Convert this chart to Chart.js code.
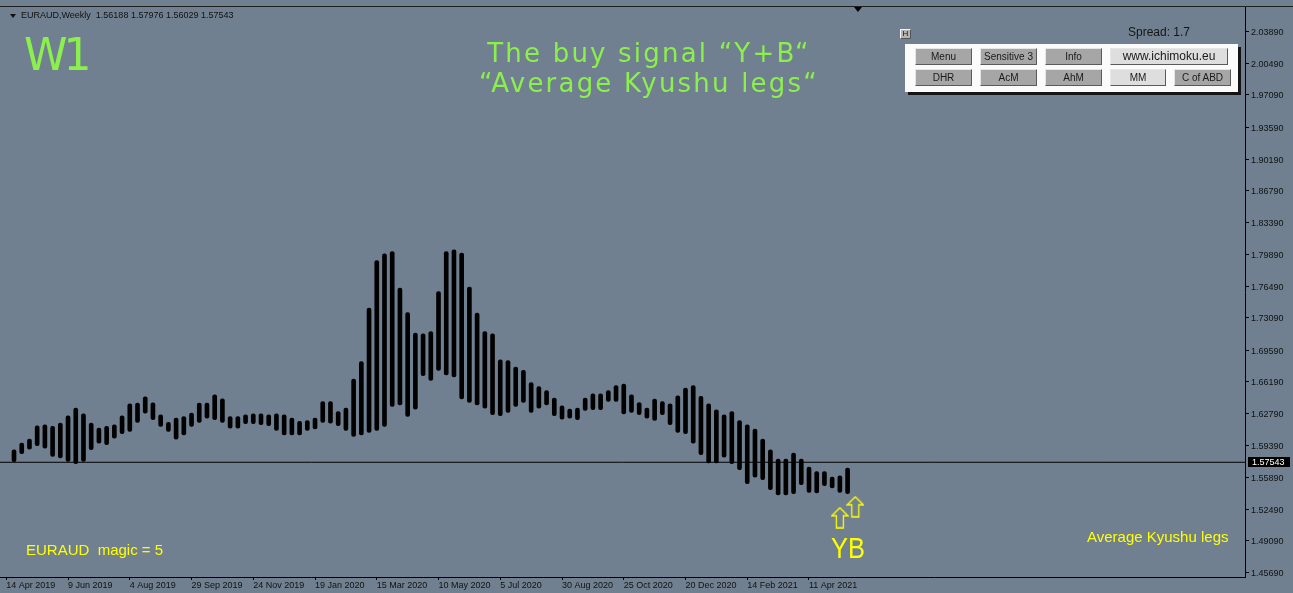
<!DOCTYPE html>
<html><head><meta charset="utf-8">
<script src="https://cdn.jsdelivr.net/npm/chart.js@4.4.1/dist/chart.umd.min.js"></script>
<style>
html,body{margin:0;padding:0;background:#708090;overflow:hidden;}
#wrap{position:relative;width:1293px;height:593px;background:#708090;}
#c{position:absolute;left:0;top:0;}
.t{position:absolute;white-space:pre;}
#topline{position:absolute;left:0;top:6px;width:1293px;height:1px;background:#1e1e1e;}
#hdr{left:21px;top:11px;font:9px "Liberation Sans";line-height:9px;color:#111;}
#hdrTri{position:absolute;left:10px;top:14px;width:0;height:0;border-left:3px solid transparent;border-right:3px solid transparent;border-top:4px solid #111;}
#shiftTri{position:absolute;left:854px;top:7px;width:0;height:0;border-left:4px solid transparent;border-right:4px solid transparent;border-top:5px solid #000;}
#w1{left:24px;top:33px;font:44px "DejaVu Sans";line-height:44px;color:#8cf04c;letter-spacing:-4px;}
#title{position:absolute;left:349px;top:38px;width:600px;text-align:center;font:26px "DejaVu Sans";line-height:30px;color:#8cf04c;letter-spacing:2.2px;white-space:pre;}
#spread{left:1128px;top:26px;font:12px "Liberation Sans";line-height:12px;color:#151515;}
#hbtn{position:absolute;left:900px;top:29px;width:11px;height:10px;box-sizing:border-box;background:#b4b4b4;border-top:1px solid #f4f4f4;border-left:1px solid #f4f4f4;border-right:1px solid #555;border-bottom:1px solid #555;font:8px "Liberation Sans";line-height:8px;text-align:center;color:#111;}
#panel{position:absolute;left:905px;top:44px;width:333px;height:48px;background:#fbfbfb;box-shadow:3px 3px 0 #141414;}
.btn{position:absolute;height:17px;box-sizing:border-box;background:#a6a6a6;border-top:1px solid #e6e6e6;border-left:1px solid #e6e6e6;border-right:1px solid #5a5a5a;border-bottom:1px solid #5a5a5a;font:10px "Liberation Sans";line-height:15px;text-align:center;color:#1a1a1a;white-space:pre;}
.lt{background:#dedede;}
#magic{left:26px;top:542px;font:15px "Liberation Sans";line-height:15px;color:#ffff00;}
#akl{left:1087px;top:529px;font:15px "Liberation Sans";line-height:15px;color:#ffff00;}
#yb{left:831px;top:533px;font:30px "Liberation Sans";line-height:30px;color:#ffff00;transform:scaleX(0.85);transform-origin:0 0;}
</style></head><body>
<div id="wrap">
<canvas id="c" width="1293" height="593"></canvas>
<div id="topline"></div>
<div id="hdrTri"></div>
<div class="t" id="hdr">EURAUD,Weekly  1.56188 1.57976 1.56029 1.57543</div>
<div id="shiftTri"></div>
<div class="t" id="w1">W1</div>
<div id="title">The buy signal “Y+B“
“Average Kyushu legs“</div>
<div id="hbtn">H</div>
<div class="t" id="spread">Spread: 1.7</div>
<div id="panel">
  <div class="btn" style="left:10px;top:4px;width:57px">Menu</div>
  <div class="btn" style="left:75px;top:4px;width:57px">Sensitive 3</div>
  <div class="btn" style="left:140px;top:4px;width:57px">Info</div>
  <div class="btn lt" style="left:205px;top:4px;width:118px;font-size:12px">www.ichimoku.eu</div>
  <div class="btn" style="left:10px;top:25px;width:57px">DHR</div>
  <div class="btn" style="left:75px;top:25px;width:57px">AcM</div>
  <div class="btn" style="left:140px;top:25px;width:57px">AhM</div>
  <div class="btn lt" style="left:205px;top:25px;width:56px">MM</div>
  <div class="btn" style="left:269px;top:25px;width:57px">C of ABD</div>
</div>
<div class="t" id="magic">EURAUD  magic = 5</div>
<div class="t" id="akl">Average Kyushu legs</div>
<div class="t" id="yb">YB</div>
</div>
<script>
// weekly tick labels (every 8th week starting at week index 0)
const dateLabels = ["14 Apr 2019","9 Jun 2019","4 Aug 2019","29 Sep 2019","24 Nov 2019","19 Jan 2020","15 Mar 2020","10 May 2020","5 Jul 2020","30 Aug 2020","25 Oct 2020","20 Dec 2020","14 Feb 2021","11 Apr 2021"];

// bar highs per week (index 0 = 14 Apr 2019)
const highs = [null,
1.5889,1.5961,1.6004,1.6147,1.6158,1.6140,1.6176,1.6255,1.6338,1.6276,
1.6176,1.6122,1.6140,1.6158,1.6255,1.6384,1.6392,1.6459,1.6395,1.6266,
1.6183,1.6230,1.6247,1.6284,1.6392,1.6392,1.6481,1.6438,1.6247,1.6247,
1.6266,1.6276,1.6276,1.6266,1.6276,1.6266,1.6230,1.6194,1.6204,1.6230,
1.6409,1.6409,1.6301,1.6338,1.6650,1.6839,1.7414,1.7927,1.7999,1.8024,
1.7630,1.7367,1.7145,1.7138,1.7162,1.7593,1.8024,1.8042,1.8006,1.7640,
1.7361,1.7162,1.7138,1.6858,1.6850,1.6779,1.6743,1.6613,1.6570,1.6527,
1.6445,1.6363,1.6327,1.6338,1.6445,1.6492,1.6492,1.6527,1.6581,1.6596,
1.6481,1.6398,1.6338,1.6435,1.6409,1.6384,1.6470,1.6553,1.6581,1.6463,
1.6384,1.6320,1.6266,1.6301,1.6204,1.6158,1.6112,1.6004,1.5889,1.5789,
1.5789,1.5853,1.5789,1.5703,1.5655,1.5655,1.5595,1.5609,1.5692];

// bar lows per week
const lows = [null,
1.5760,1.5846,1.5896,1.5932,1.5907,1.5817,1.5800,1.5763,1.5738,1.5763,
1.5889,1.5961,1.5943,1.6015,1.6061,1.6086,1.6183,1.6284,1.6212,1.6140,
1.6086,1.6004,1.6050,1.6140,1.6183,1.6230,1.6212,1.6183,1.6122,1.6122,
1.6169,1.6169,1.6158,1.6147,1.6097,1.6050,1.6050,1.6050,1.6097,1.6112,
1.6183,1.6176,1.6147,1.6097,1.6032,1.6050,1.6075,1.6097,1.6140,1.6355,
1.6373,1.6247,1.6327,1.6686,1.6635,1.6743,1.6696,1.6672,1.6435,1.6398,
1.6373,1.6338,1.6266,1.6255,1.6290,1.6355,1.6398,1.6290,1.6338,1.6373,
1.6255,1.6219,1.6230,1.6212,1.6312,1.6320,1.6320,1.6409,1.6409,1.6276,
1.6290,1.6266,1.6230,1.6204,1.6266,1.6158,1.6075,1.6061,1.5961,1.5835,
1.5746,1.5746,1.5810,1.5738,1.5674,1.5523,1.5595,1.5566,1.5458,1.5404,
1.5404,1.5415,1.5512,1.5429,1.5423,1.5501,1.5477,1.5429,1.5415];

// price axis tick labels
const yTickValues = [2.03890,2.00490,1.97090,1.93590,1.90190,1.86790,1.83390,1.79890,1.76490,1.73090,1.69590,1.66190,1.62790,1.59390,1.55890,1.52490,1.49090,1.45690];

const currentPrice = 1.57543;

// signal arrows (week index, price)
const arrowWeeks = [108, 110];
const arrowPrices = [1.5157, 1.5275];

const X_MIN = -0.816, X_MAX = 160.49;
const Y_MIN = 1.4519, Y_MAX = 2.0656;

function makeArrow(){
  const c = document.createElement('canvas'); c.width = 18; c.height = 22;
  const g = c.getContext('2d');
  g.strokeStyle = '#ffff00'; g.lineWidth = 1.3; g.lineJoin = 'miter';
  g.beginPath();
  g.moveTo(9,1); g.lineTo(17,9); g.lineTo(12.5,9); g.lineTo(12.5,21); g.lineTo(5.5,21); g.lineTo(5.5,9); g.lineTo(1,9); g.closePath();
  g.stroke();
  return c;
}

const barData = [];
highs.forEach((h,i)=>{ if(h!=null && lows[i]!=null) barData.push({x:i, y:[lows[i], h]}); });
const arrowData = arrowWeeks.map((w,i)=>({x:w, y:arrowPrices[i]}));

const priceTag = {
  id:'priceTag',
  afterDraw(chart){
    const y = Math.round(chart.scales.y.getPixelForValue(currentPrice));
    const x0 = chart.chartArea.right;
    const ctx = chart.ctx;
    ctx.save();
    ctx.fillStyle = '#000';
    ctx.fillRect(x0+3, y-5, 42, 10);
    ctx.fillStyle = '#fff';
    ctx.font = '9px "Liberation Sans"';
    ctx.textBaseline = 'middle';
    ctx.fillText(currentPrice.toFixed(5), x0+7, y+0.5);
    ctx.restore();
  }
};

const axisFont = {family:'Liberation Sans', size:9};

new Chart(document.getElementById('c').getContext('2d'), {
  type:'bar',
  data:{ datasets:[
    { type:'scatter', data:arrowData, pointStyle:makeArrow(), pointRadius:10, order:0 },
    { type:'bar', data:barData, backgroundColor:'#000', borderColor:'#000', barThickness:4, borderRadius:2, borderSkipped:false, order:1 },
    { type:'line', data:[{x:X_MIN,y:currentPrice},{x:X_MAX,y:currentPrice}], borderColor:'#000', borderWidth:1, pointRadius:0, order:2 }
  ]},
  options:{
    responsive:false, animation:false, devicePixelRatio:1,
    layout:{autoPadding:false, padding:{top:7,left:0,right:0,bottom:0}},
    plugins:{legend:{display:false}, tooltip:{enabled:false}},
    scales:{
      x:{
        type:'linear', position:'bottom', min:X_MIN, max:X_MAX, offset:false,
        afterBuildTicks:s=>{ s.ticks = dateLabels.map((_,k)=>({value:k*8})); },
        afterFit:s=>{ s.height = 16; s.paddingLeft = 0; s.paddingRight = 0; },
        grid:{display:true, drawOnChartArea:false, drawTicks:true, tickLength:3, tickColor:'#000', offset:false},
        border:{display:true, color:'#000', width:1},
        ticks:{autoSkip:false, maxRotation:0, minRotation:0, align:'start', padding:0, color:'#111', font:axisFont,
          callback:v=>{ const k=Math.round(v/8); return dateLabels[k] ?? ''; }}
      },
      y:{
        type:'linear', position:'right', min:Y_MIN, max:Y_MAX,
        afterBuildTicks:s=>{ s.ticks = yTickValues.map(v=>({value:v})); },
        afterFit:s=>{ s.width = 48; s.paddingTop = 0; s.paddingBottom = 0; },
        grid:{display:true, drawOnChartArea:false, drawTicks:true, tickLength:4, tickColor:'#000'},
        border:{display:true, color:'#000', width:1},
        ticks:{padding:2, labelOffset:1, color:'#111', font:axisFont, callback:v=>Number(v).toFixed(5)}
      }
    }
  },
  plugins:[priceTag]
});
</script>
</body></html>
